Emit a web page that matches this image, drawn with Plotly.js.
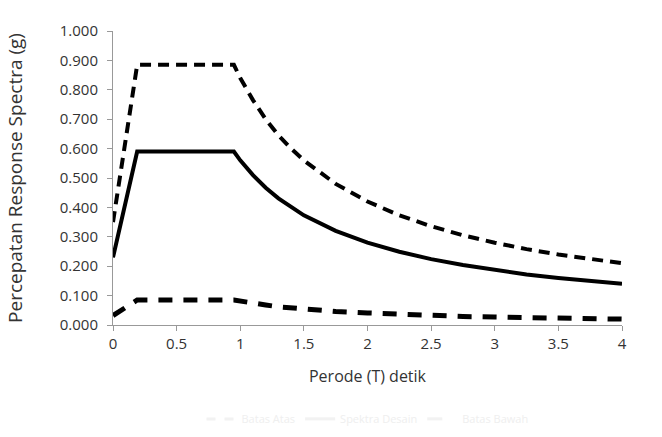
<!DOCTYPE html>
<html>
<head>
<meta charset="utf-8">
<script src="https://cdn.plot.ly/plotly-3.0.1.min.js"></script>
<style>html,body{margin:0;padding:0;background:#fff;}#chart{width:662px;height:437px;}</style>
</head>
<body>
<div id="chart"></div>
<script>
// Period T (s)
const periodT = [0, 0.19, 0.95, 1.0, 1.1, 1.2, 1.3, 1.4, 1.5, 1.75, 2.0, 2.25, 2.5, 2.75, 3.0, 3.25, 3.5, 3.75, 4.0];
// Upper dashed spectrum (g)
const upperSa = [0.350, 0.885, 0.885, 0.840, 0.765, 0.700, 0.645, 0.600, 0.560, 0.480, 0.420, 0.373, 0.336, 0.305, 0.280, 0.258, 0.240, 0.224, 0.210];
// Solid design spectrum (g)
const designSa = [0.230, 0.590, 0.590, 0.560, 0.510, 0.467, 0.431, 0.400, 0.373, 0.320, 0.280, 0.249, 0.224, 0.204, 0.187, 0.172, 0.160, 0.149, 0.140];
// Lower dashed spectrum (g)
const lowerSa = [0.032, 0.085, 0.085, 0.081, 0.074, 0.068, 0.062, 0.058, 0.054, 0.046, 0.041, 0.036, 0.032, 0.029, 0.027, 0.025, 0.023, 0.022, 0.020];
const seriesNames = ['Batas Atas', 'Spektra Desain', 'Batas Bawah'];
const xTicks = [0, 0.5, 1, 1.5, 2, 2.5, 3, 3.5, 4];
const yTicks = [0, 0.1, 0.2, 0.3, 0.4, 0.5, 0.6, 0.7, 0.8, 0.9, 1.0];

const font = "'Open Sans', 'Liberation Sans', sans-serif";
const traces = [
  {x: periodT, y: upperSa, mode: 'lines', name: seriesNames[0], showlegend: false,
   line: {color: '#000', width: 4, dash: '11px,7px'}},
  {x: periodT, y: designSa, mode: 'lines', name: seriesNames[1], showlegend: false,
   line: {color: '#000', width: 4}},
  {x: periodT, y: lowerSa, mode: 'lines', name: seriesNames[2], showlegend: false,
   line: {color: '#000', width: 5, dash: '14px,11px'}},
  // faint legend entries (legend in reference is barely visible)
  {x: [null], y: [null], mode: 'lines', name: seriesNames[0], visible: 'legendonly',
   line: {color: '#e6e6e6', width: 3, dash: 'dash'}},
  {x: [null], y: [null], mode: 'lines', name: seriesNames[1], visible: 'legendonly',
   line: {color: '#e6e6e6', width: 3}},
  {x: [null], y: [null], mode: 'lines', name: seriesNames[2], visible: 'legendonly',
   line: {color: '#e6e6e6', width: 3, dash: 'longdash'}}
];

const layout = {
  width: 662, height: 437,
  margin: {l: 113, r: 40, t: 31, b: 112, autoexpand: false},
  paper_bgcolor: '#fff', plot_bgcolor: '#fff',
  font: {family: font, color: '#333', size: 15},
  xaxis: {
    range: [0, 4], tickvals: xTicks, ticktext: xTicks.map(String),
    showgrid: false, zeroline: false, showline: true, linecolor: '#999', linewidth: 1,
    ticks: 'outside', ticklen: 5, tickcolor: '#999',
    tickfont: {family: font, size: 15, color: '#333'},
    title: {text: 'Perode (T) detik', font: {family: font, size: 16, color: '#333'}, standoff: 18}
  },
  yaxis: {
    range: [0, 1.0], tickvals: yTicks, ticktext: yTicks.map(v => v.toFixed(3)),
    showgrid: false, zeroline: false, showline: true, linecolor: '#999', linewidth: 1,
    ticks: 'outside', ticklen: 5, tickcolor: '#999', ticklabelstandoff: 6,
    tickfont: {family: font, size: 15, color: '#333'},
    title: {text: 'Percepatan Response Spectra (g)', font: {family: font, size: 19, color: '#333'}, standoff: 32}
  },
  showlegend: true,
  legend: {orientation: 'h', x: 0.5, xanchor: 'center', y: -0.27, yanchor: 'top',
           font: {family: font, size: 11, color: '#e0e0e0'}, bgcolor: 'rgba(0,0,0,0)'}
};

Plotly.newPlot('chart', traces, layout, {displayModeBar: false, staticPlot: true});
</script>
</body>
</html>
